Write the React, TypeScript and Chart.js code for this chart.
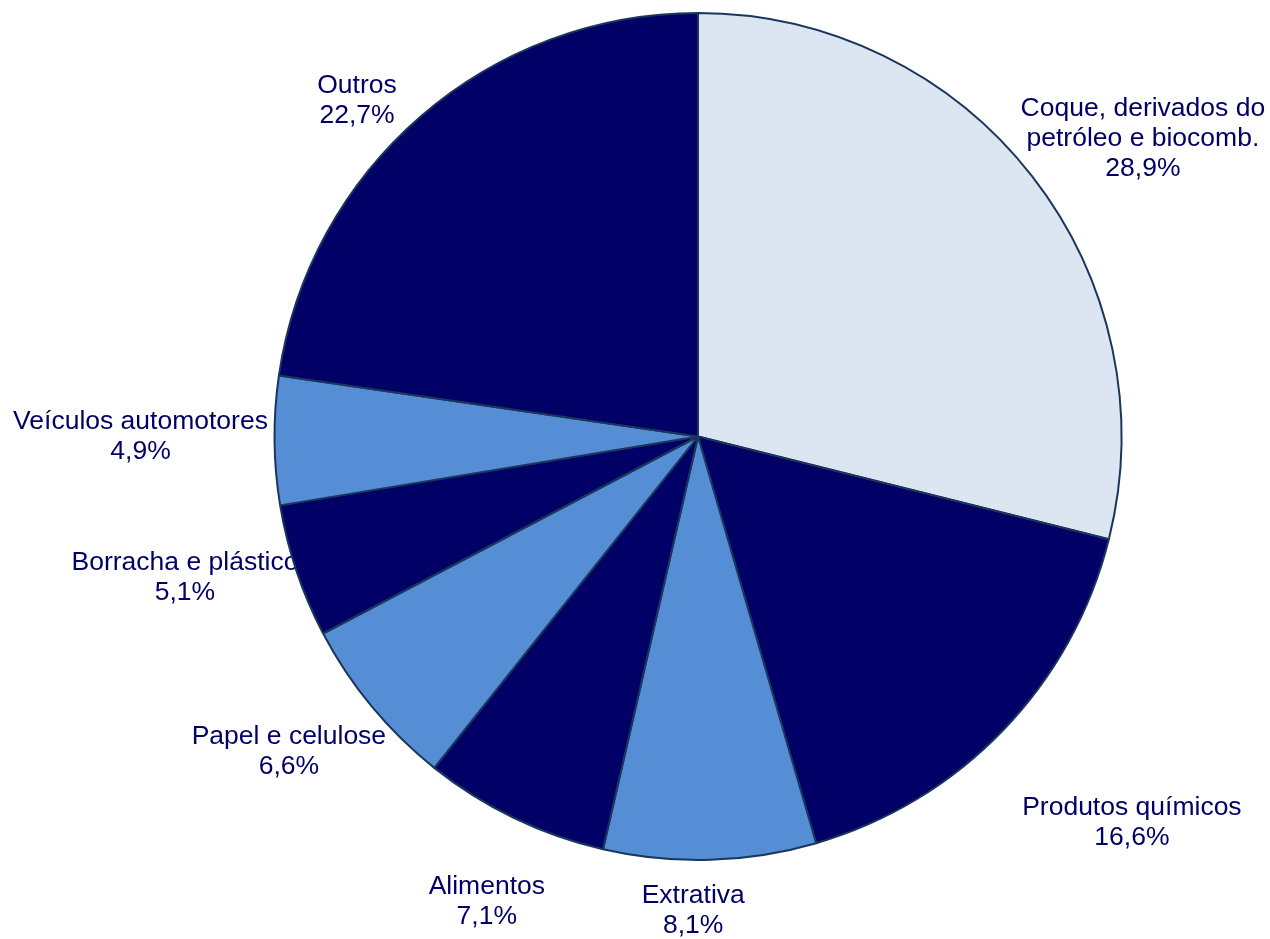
import React, { useEffect, useRef } from "react";
import { Chart, registerables } from "chart.js";

Chart.register(...registerables);

// ---- data ----
const categories: string[][] = [
  ["Coque, derivados do", "petróleo e biocomb."],
  ["Produtos químicos"],
  ["Extrativa"],
  ["Alimentos"],
  ["Papel e celulose"],
  ["Borracha e plástico"],
  ["Veículos automotores"],
  ["Outros"],
];
const shares: number[] = [28.9, 16.6, 8.1, 7.1, 6.6, 5.1, 4.9, 22.7];

// ---- styling / layout (not data) ----
const sliceColors = [
  "#DCE6F2",
  "#000066",
  "#558ED5",
  "#000066",
  "#558ED5",
  "#000066",
  "#558ED5",
  "#000066",
];
// label placement relative to each arc: angle nudge (deg, clockwise) and distance beyond the rim (px)
const labelNudgeDeg = [4.0, -2.4, 2.2, -1.2, 2.2, 3.4, 0.7, -4.4];
const labelExtraPx = [113, 156, 49, 85, 91.5, 108, 134, 56.6];

const FONT_SIZE = 26.5;
const LINE_H = 30;
const TEXT_COLOR = "#000066";

const fmt = (v: number) => v.toFixed(1).replace(".", ",") + "%";

const labelPlugin = {
  id: "outsideLabels",
  beforeDatasetsDraw(chart: any) {
    const ctx = chart.ctx as CanvasRenderingContext2D;
    const meta = chart.getDatasetMeta(0);
    ctx.save();
    ctx.font = `${FONT_SIZE}px "Liberation Sans", Arial, sans-serif`;
    ctx.fillStyle = TEXT_COLOR;
    ctx.textAlign = "center";
    ctx.textBaseline = "alphabetic";
    meta.data.forEach((arc: any, i: number) => {
      const p = arc.getProps(["x", "y", "startAngle", "endAngle", "outerRadius"], true);
      const mid = (p.startAngle + p.endAngle) / 2 + (labelNudgeDeg[i] * Math.PI) / 180;
      const dist = p.outerRadius + labelExtraPx[i];
      const cx = p.x + Math.cos(mid) * dist;
      const cy = p.y + Math.sin(mid) * dist;
      const lines = [...categories[i], fmt(shares[i])];
      const n = lines.length;
      lines.forEach((line, k) => {
        const by = cy + (k - (n - 1) / 2) * LINE_H + FONT_SIZE * 0.358;
        ctx.fillText(line, cx, by);
      });
    });
    ctx.restore();
  },
};

export default function App() {
  const ref = useRef<HTMLCanvasElement | null>(null);
  useEffect(() => {
    if (!ref.current) return;
    const chart = new Chart(ref.current, {
      type: "pie",
      data: {
        labels: categories.map((c) => c.join(" ")),
        datasets: [
          {
            data: shares,
            backgroundColor: sliceColors,
            borderColor: "#1B365D",
            borderWidth: 2,
          },
        ],
      },
      options: {
        responsive: false,
        animation: false,
        devicePixelRatio: 1,
        radius: 423.5,
        layout: { padding: { left: 126, right: 0, top: 0, bottom: 66 } },
        plugins: {
          legend: { display: false },
          tooltip: { enabled: false },
        },
      } as any,
      plugins: [labelPlugin],
    });
    return () => chart.destroy();
  }, []);
  return (
    <div style={{ position: "absolute", left: 0, top: 0, width: 1270, height: 939, background: "#fff" }}>
      <canvas ref={ref} width={1270} height={939} style={{ display: "block" }} />
    </div>
  );
}
